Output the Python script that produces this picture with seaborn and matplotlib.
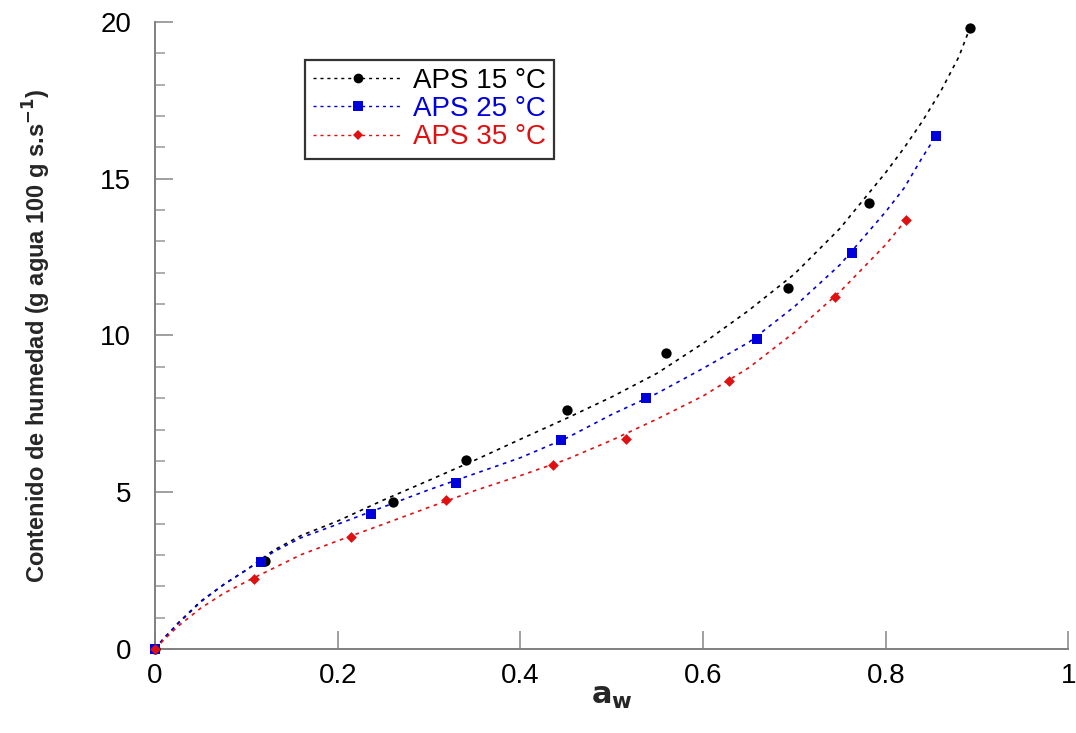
import pandas as pd
import matplotlib
matplotlib.use('Agg')
import matplotlib.pyplot as plt
from matplotlib.lines import Line2D
from matplotlib.ticker import MultipleLocator
import seaborn as sns

# ----- MEASURED POINTS (aw, humedad) ---------------|
aw_15 = [0, 0.120, 0.261, 0.341, 0.451, 0.559, 0.693, 0.782, 0.892]
m_15 = [0, 2.81, 4.70, 6.03, 7.62, 9.43, 11.50, 14.22, 19.80]

aw_25 = [0, 0.116, 0.237, 0.330, 0.444, 0.537, 0.659, 0.763, 0.855]
m_25 = [0, 2.79, 4.30, 5.28, 6.67, 8.02, 9.89, 12.62, 16.37]

aw_35 = [0, 0.108, 0.215, 0.319, 0.436, 0.516, 0.628, 0.744, 0.822]
m_35 = [0, 2.23, 3.58, 4.75, 5.87, 6.70, 8.55, 11.24, 13.68]

# ----- FITTED CURVES --------------------------------------|
fit_aw_15 = [0, 0.01, 0.025, 0.05, 0.075, 0.1, 0.13, 0.16, 0.2, 0.25, 0.3, 0.35, 0.4,
             0.45, 0.5, 0.55, 0.6, 0.65, 0.7, 0.75, 0.8, 0.82, 0.84, 0.86, 0.88, 0.892]
fit_m_15 = [0, 0.33, 0.82, 1.52, 2.05, 2.52, 3.15, 3.62, 4.08, 4.75, 5.38, 6.02, 6.69,
            7.35, 8.04, 8.80, 9.75, 10.80, 11.96, 13.42, 15.20, 15.98, 16.83, 17.78, 18.89, 19.80]

fit_aw_25 = [0, 0.01, 0.025, 0.05, 0.075, 0.1, 0.13, 0.16, 0.2, 0.25, 0.3, 0.35, 0.4,
             0.45, 0.5, 0.55, 0.6, 0.65, 0.7, 0.75, 0.8, 0.82, 0.84, 0.855]
fit_m_25 = [0, 0.36, 0.80, 1.50, 2.05, 2.52, 3.10, 3.55, 3.98, 4.53, 5.08, 5.59, 6.10,
            6.72, 7.48, 8.16, 8.95, 9.78, 10.92, 12.26, 13.95, 14.70, 15.68, 16.37]

fit_aw_35 = [0, 0.01, 0.025, 0.05, 0.075, 0.1, 0.13, 0.16, 0.2, 0.25, 0.3, 0.35, 0.4,
             0.45, 0.5, 0.55, 0.6, 0.65, 0.7, 0.75, 0.8, 0.822]
fit_m_35 = [0, 0.30, 0.72, 1.30, 1.77, 2.15, 2.58, 3.01, 3.45, 3.98, 4.52, 5.05, 5.53,
            6.04, 6.66, 7.34, 8.07, 8.97, 10.10, 11.40, 12.90, 13.68]

x_ticks = [0, 0.2, 0.4, 0.6, 0.8, 1]
x_ticklabels = ['0', '0.2', '0.4', '0.6', '0.8', '1']
y_ticks = [0, 5, 10, 15, 20]

labels = ['APS 15 °C', 'APS 25 °C', 'APS 35 °C']
colors = ['#000000', '#0000dd', '#e01010']
markers = ['o', 's', 'D']
sizes = [55, 45, 30]

points = [(aw_15, m_15), (aw_25, m_25), (aw_35, m_35)]
fits = [(fit_aw_15, fit_m_15), (fit_aw_25, fit_m_25), (fit_aw_35, fit_m_35)]

DOTS = (0, (2.2, 2.8))

sns.set_theme(style='white')
plt.rcParams['font.family'] = ['Liberation Sans', 'DejaVu Sans']
plt.rcParams['mathtext.fontset'] = 'custom'
plt.rcParams['mathtext.rm'] = 'Liberation Sans Narrow'
plt.rcParams['mathtext.bf'] = 'Liberation Sans Narrow:bold'

fig = plt.figure(figsize=(10.76, 7.33), dpi=100)
ax = fig.add_axes([0.144, 0.1146, 0.849, 0.8554])

for (fx, fy), c in zip(fits, colors):
    sns.lineplot(x=fx, y=fy, color=c, linestyle=DOTS, linewidth=1.2,
                 sort=False, estimator=None, ax=ax, legend=False)

for (px, py), c, mk, s in zip(points, colors, markers, sizes):
    sns.scatterplot(x=px, y=py, color=c, marker=mk, s=s, linewidth=0, ax=ax,
                    legend=False, zorder=3, clip_on=False)

ax.set_xlim(0, 1)
ax.set_ylim(0, 20)
ax.set_xticks(x_ticks, x_ticklabels)
ax.set_yticks(y_ticks, [str(v) for v in y_ticks])
ax.yaxis.set_minor_locator(MultipleLocator(1))

for side in ['top', 'right']:
    ax.spines[side].set_visible(False)
for side in ['left', 'bottom']:
    ax.spines[side].set_color('#808080')
    ax.spines[side].set_linewidth(1.4)

ax.tick_params(axis='both', which='major', direction='in', length=13, width=1.2,
               color='#909090', labelsize=20, labelcolor='black',
               bottom=True, left=True)
ax.tick_params(axis='y', which='minor', direction='in', length=7, width=1.2,
               color='#a0a0a0', left=True)
ax.tick_params(axis='x', which='major', pad=10)
ax.tick_params(axis='y', which='major', pad=17)

ax.set_xlabel(r'$\mathbf{a_w}$', fontsize=22, labelpad=-6)
ax.set_ylabel(r'Contenido de humedad (g agua 100 g s.s$\mathbf{^{-1}}$)',
              fontsize=17, fontweight='bold', labelpad=34,
              family=['Liberation Sans Narrow', 'Liberation Sans', 'DejaVu Sans'])

handles = [Line2D([0], [0], color=c, linestyle=DOTS, linewidth=1.0, marker=mk,
                  markersize=ms, markeredgewidth=0)
           for c, mk, ms in zip(colors, markers, [7, 6.5, 5])]
leg = ax.legend(handles, labels, loc='upper left', bbox_to_anchor=(0.164, 0.94),
                fontsize=20, frameon=True, fancybox=False, edgecolor='black',
                handlelength=3.2, numpoints=1, labelcolor='linecolor',
                borderpad=0.3, labelspacing=0.08, handletextpad=0.4,
                borderaxespad=0)
leg.get_frame().set_linewidth(1.6)

fig.savefig('out.png', dpi=100)
